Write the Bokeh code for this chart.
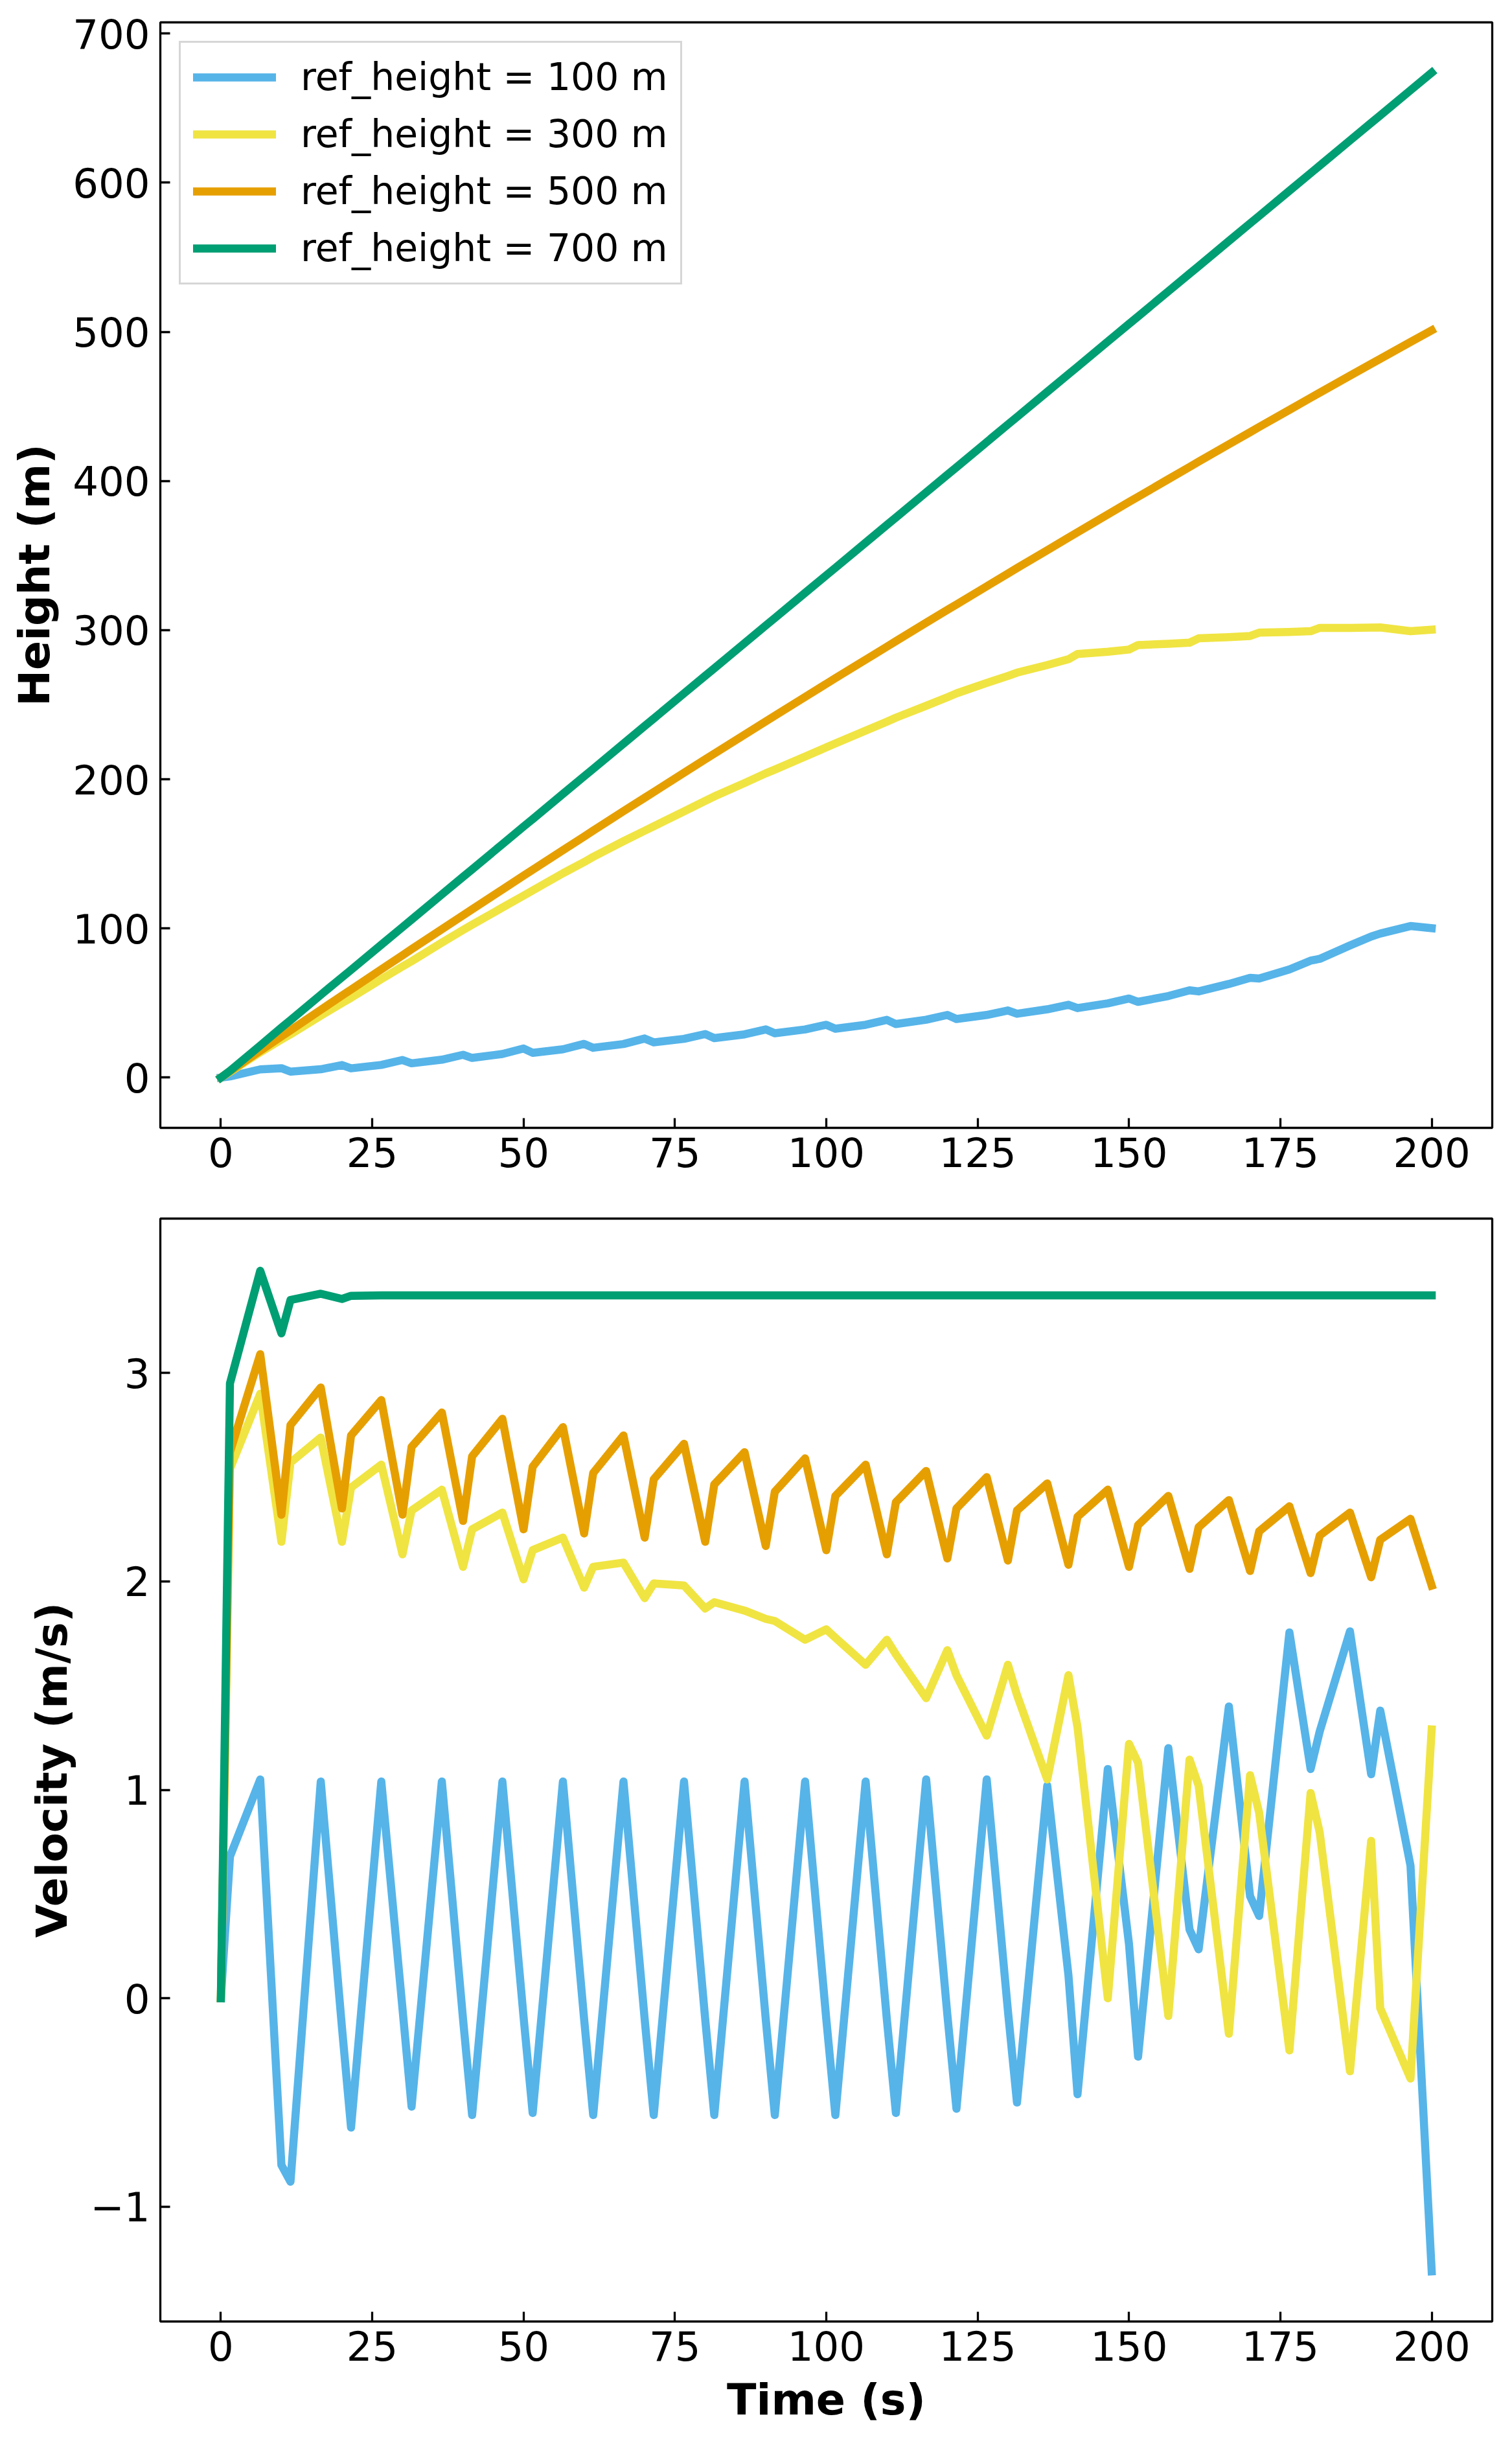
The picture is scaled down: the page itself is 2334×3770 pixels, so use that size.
from bokeh.plotting import figure
from bokeh.layouts import column
from bokeh.models import Range1d, FixedTicker
from bokeh.embed import file_html
from bokeh.resources import INLINE

# ---------------- data ----------------
time_s = [0, 1.5, 6.5, 10, 11.5, 16.5, 20, 21.5, 26.5, 30, 31.5, 36.5, 40, 41.5, 46.5,
          50, 51.5, 56.5, 60, 61.5, 66.5, 70, 71.5, 76.5, 80, 81.5, 86.5, 90, 91.5, 96.5,
          100, 101.5, 106.5, 110, 111.5, 116.5, 120, 121.5, 126.5, 130, 131.5, 136.5, 140,
          141.5, 146.5, 150, 151.5, 156.5, 160, 161.5, 166.5, 170, 171.5, 176.5, 180, 181.5,
          186.5, 190, 191.5, 196.5, 200]

series_labels = ["ref_height = 100 m", "ref_height = 300 m",
                 "ref_height = 500 m", "ref_height = 700 m"]

height_100 = [0, 0.8, 5.5, 6.3, 4.0, 5.6, 8.4, 6.2, 8.5, 11.8, 9.6, 12.0, 15.3, 13.2, 15.8,
              19.5, 16.6, 19.0, 22.6, 20.0, 22.5, 26.2, 23.6, 26.0, 29.2, 26.5, 29.0, 32.3,
              29.7, 32.3, 35.4, 32.8, 35.4, 38.7, 35.9, 38.8, 42.0, 39.3, 42.0, 45.0, 42.8,
              45.8, 48.8, 46.6, 49.8, 53.0, 50.8, 54.7, 58.5, 57.8, 62.8, 66.9, 66.4, 72.5,
              78.4, 79.6, 88.6, 94.6, 96.6, 101.6, 100.2]
height_300 = [0, 3.8, 17.0, 25.5, 29.0, 41.5, 50.0, 53.5, 66.0, 74.5, 78.0, 90.5, 99.0, 102.5,
              114.0, 122.0, 125.5, 137.0, 144.5, 148.0, 158.5, 165.5, 168.5, 178.5, 185.5,
              188.5, 197.5, 204.0, 206.5, 215.2, 221.4, 224.0, 232.6, 238.6, 241.3, 249.3,
              255.0, 257.6, 264.6, 269.3, 271.5, 276.6, 280.5, 284.0, 285.5, 287.0, 290.0,
              290.8, 291.6, 294.5, 295.3, 296.1, 298.3, 298.8, 299.3, 301.5, 301.5, 301.7,
              301.8, 299.3, 300.3]
height_500 = [0, 4.2, 18.0, 27.6, 31.7, 45.4, 55.0, 59.0, 72.6, 82.0, 86.1, 99.5, 108.8, 112.8,
              126.1, 135.4, 139.3, 152.5, 161.6, 165.6, 178.6, 187.6, 191.5, 204.4, 213.4,
              217.2, 229.9, 238.8, 242.6, 255.2, 264.0, 267.8, 280.2, 288.9, 292.6, 305.0,
              313.6, 317.2, 329.4, 337.9, 341.6, 353.6, 362.0, 365.6, 377.6, 385.9, 389.4,
              401.2, 409.4, 413.0, 424.6, 432.7, 436.2, 447.7, 455.8, 459.2, 470.6, 478.5,
              481.9, 493.2, 501.0]
height_700 = [0, 4.5, 21.5, 33.5, 38.5, 55.5, 67.2, 72.2, 89.1, 100.9, 105.9, 122.8, 134.6,
              139.6, 156.5, 168.3, 173.3, 190.2, 202.0, 207.0, 223.9, 235.7, 240.7, 257.6,
              269.4, 274.4, 291.3, 303.1, 308.1, 325.0, 336.8, 341.8, 358.7, 370.5, 375.5,
              392.4, 404.2, 409.2, 426.1, 437.9, 442.9, 459.8, 471.6, 476.6, 493.5, 505.3,
              510.3, 527.2, 539.0, 544.0, 560.9, 572.7, 577.7, 594.6, 606.4, 611.4, 628.3,
              640.1, 645.1, 662.0, 673.8]

velocity_100 = [0.0, 0.68, 1.05, -0.80, -0.88, 1.04, -0.14, -0.62, 1.04, -0.05, -0.52, 1.04,
                -0.10, -0.56, 1.04, -0.09, -0.55, 1.04, -0.10, -0.56, 1.04, -0.10, -0.56,
                1.04, -0.10, -0.56, 1.04, -0.10, -0.56, 1.04, -0.10, -0.56, 1.04, -0.10,
                -0.55, 1.05, -0.08, -0.53, 1.05, -0.06, -0.50, 1.02, 0.11, -0.46, 1.10, 0.26,
                -0.28, 1.20, 0.33, 0.235, 1.40, 0.49, 0.395, 1.755, 1.10, 1.28, 1.76, 1.075,
                1.38, 0.636, -1.31]
velocity_300 = [0.0, 2.54, 2.90, 2.19, 2.57, 2.69, 2.19, 2.45, 2.56, 2.13, 2.34, 2.44, 2.07,
                2.25, 2.33, 2.01, 2.15, 2.21, 1.97, 2.07, 2.09, 1.92, 1.99, 1.98, 1.87, 1.90,
                1.86, 1.82, 1.81, 1.72, 1.77, 1.73, 1.60, 1.72, 1.65, 1.44, 1.67, 1.55, 1.26,
                1.60, 1.455, 1.05, 1.55, 1.30, 0.0, 1.22, 1.13, -0.085, 1.145, 1.02, -0.17,
                1.07, 0.89, -0.25, 0.985, 0.796, -0.35, 0.755, -0.047, -0.385, 1.29]
velocity_500 = [0.0, 2.62, 3.09, 2.32, 2.75, 2.93, 2.35, 2.70, 2.87, 2.32, 2.645, 2.81, 2.29,
                2.60, 2.78, 2.25, 2.55, 2.74, 2.23, 2.52, 2.70, 2.21, 2.49, 2.66, 2.19, 2.465,
                2.62, 2.17, 2.43, 2.59, 2.15, 2.41, 2.56, 2.13, 2.38, 2.53, 2.11, 2.35, 2.50,
                2.10, 2.34, 2.47, 2.08, 2.31, 2.44, 2.07, 2.27, 2.41, 2.06, 2.26, 2.39, 2.05,
                2.24, 2.36, 2.04, 2.22, 2.33, 2.02, 2.20, 2.30, 1.98]
velocity_700 = [0.0, 2.95, 3.49, 3.19, 3.35, 3.38, 3.355, 3.37,
                3.372, 3.372, 3.372, 3.372, 3.372, 3.372, 3.372, 3.372, 3.372, 3.372,
                3.372, 3.372, 3.372, 3.372, 3.372, 3.372, 3.372, 3.372, 3.372, 3.372,
                3.372, 3.372, 3.372, 3.372, 3.372, 3.372, 3.372, 3.372, 3.372, 3.372,
                3.372, 3.372, 3.372, 3.372, 3.372, 3.372, 3.372, 3.372, 3.372, 3.372,
                3.372, 3.372, 3.372, 3.372, 3.372, 3.372, 3.372, 3.372, 3.372, 3.372,
                3.372, 3.372, 3.372]

x_ticks = [0, 25, 50, 75, 100, 125, 150, 175, 200]
height_ticks = [0, 100, 200, 300, 400, 500, 600, 700]
velocity_ticks = [-1, 0, 1, 2, 3]
velocity_tick_labels = {-1: "\u22121", 0: "0", 1: "1", 2: "2", 3: "3"}

# ---------------- style ----------------
FONT = "DejaVu Sans"
COLORS = ["#56B4E9", "#F0E442", "#E69F00", "#009E73"]
LW = 12.5


def style(p, yticks, overrides=None):
    p.xaxis.ticker = FixedTicker(ticks=x_ticks)
    p.yaxis.ticker = FixedTicker(ticks=yticks)
    if overrides:
        p.yaxis.major_label_overrides = overrides
    for ax in (p.xaxis[0], p.yaxis[0]):
        ax.major_tick_in = 15
        ax.major_tick_out = 0
        ax.minor_tick_line_color = None
        ax.major_tick_line_width = 3.3
        ax.major_tick_line_color = "black"
        ax.axis_line_color = None
        ax.major_label_text_font = FONT
        ax.major_label_text_font_size = "62.5px"
        ax.major_label_text_color = "black"
        ax.axis_label_text_font = FONT
        ax.axis_label_text_font_size = "66.7px"
        ax.axis_label_text_font_style = "bold"
        ax.axis_label_text_color = "black"
    p.xaxis.major_label_standoff = 14
    p.yaxis.major_label_standoff = 16
    p.xaxis.axis_label_standoff = 18
    p.yaxis.axis_label_standoff = 17
    p.xgrid.visible = False
    p.ygrid.visible = False
    p.outline_line_color = "black"
    p.outline_line_width = 3.3
    p.outline_line_alpha = 1.0
    p.background_fill_color = "white"
    p.border_fill_color = "white"


# top: height
p1 = figure(width=2326, height=1850, output_backend="svg", toolbar_location=None,
            x_range=Range1d(-10, 210), y_range=Range1d(-33.7, 707.5),
            min_border_left=247, min_border_right=23, min_border_top=34,
            min_border_bottom=110)
heights = [height_100, height_300, height_500, height_700]
for h, c, lab in zip(heights, COLORS, series_labels):
    p1.line(time_s, h, line_color=c, line_width=LW, line_join="round",
            line_cap="square", legend_label=lab)
p1.yaxis.axis_label = "Height (m)"
style(p1, height_ticks)

lg = p1.legend[0]
lg.location = "top_left"
lg.margin = 29
lg.padding = 19
lg.spacing = 20
lg.label_height = 68
lg.glyph_height = 68
lg.glyph_width = 128
lg.label_standoff = 38
lg.label_text_font = FONT
lg.label_text_font_size = "58.3px"
lg.label_text_color = "black"
lg.border_line_color = "#cccccc"
lg.border_line_width = 3.3
lg.border_line_alpha = 0.8
lg.background_fill_color = "white"
lg.background_fill_alpha = 0.8

# bottom: velocity
p2 = figure(width=2326, height=1915, output_backend="svg", toolbar_location=None,
            x_range=Range1d(-10, 210), y_range=Range1d(-1.5505, 3.7405),
            min_border_left=247, min_border_right=23, min_border_top=30,
            min_border_bottom=183)
velocities = [velocity_100, velocity_300, velocity_500, velocity_700]
for v, c in zip(velocities, COLORS):
    p2.line(time_s, v, line_color=c, line_width=LW, line_join="round", line_cap="square")
p2.xaxis.axis_label = "Time (s)"
p2.yaxis.axis_label = "Velocity (m/s)"
style(p2, velocity_ticks, velocity_tick_labels)

layout = column(p1, p2, spacing=0)
open("out.html", "w").write(file_html(layout, INLINE))
